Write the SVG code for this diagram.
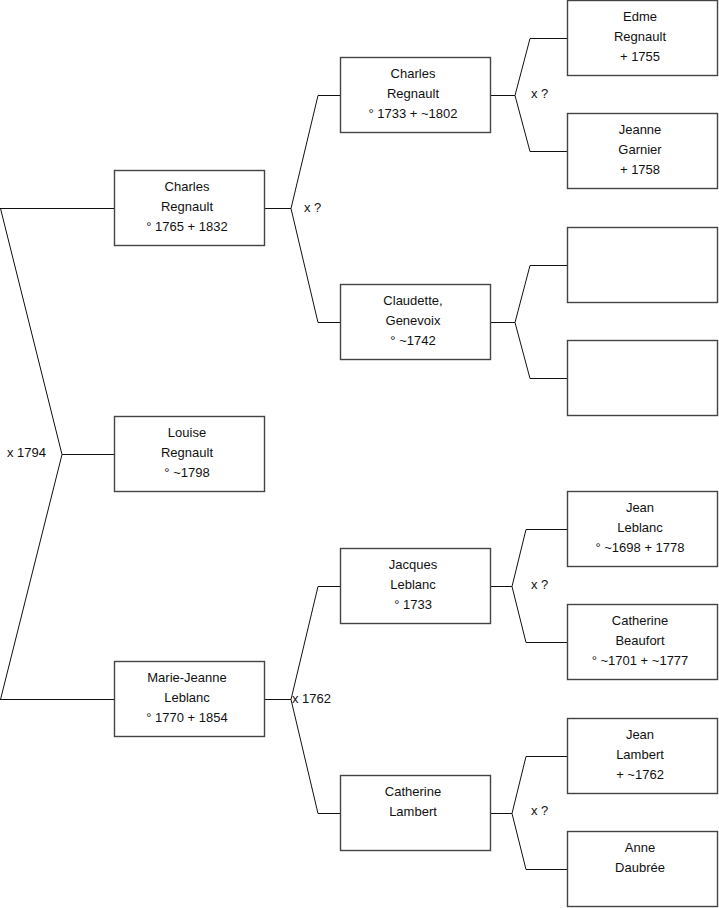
<svg xmlns="http://www.w3.org/2000/svg" width="719" height="908" viewBox="0 0 719 908">
<style>
.box{fill:#fff;stroke:#444;stroke-width:1.4}
.t{font-family:"Liberation Sans",Arial,sans-serif;font-size:13px;fill:#111;text-anchor:middle}
.l{font-family:"Liberation Sans",Arial,sans-serif;font-size:13px;fill:#111}
.c{fill:none;stroke:#111;stroke-width:1}
</style>
<rect width="719" height="908" fill="#fff"/>
<g id="connectors">
<polyline class="c" points="0.5,208.5 62,454.5 0.5,699.5"/>
<line class="c" x1="0" y1="208.5" x2="114.5" y2="208.5"/>
<line class="c" x1="62" y1="454.5" x2="114.5" y2="454.5"/>
<line class="c" x1="0" y1="699.5" x2="114.5" y2="699.5"/>
<polyline class="c" points="264.5,208.5 291,208.5 318,95.5 340.5,95.5"/>
<polyline class="c" points="291,208.5 318,322.5 340.5,322.5"/>
<polyline class="c" points="264.5,699.5 291,699.5 318,586.5 340.5,586.5"/>
<polyline class="c" points="291,699.5 318,813.5 340.5,813.5"/>
<polyline class="c" points="490.5,95.5 515,95.5 530,38.5 567.5,38.5"/>
<polyline class="c" points="515,95.5 530,151.5 567.5,151.5"/>
<polyline class="c" points="490.5,322.5 515,322.5 530,265.5 567.5,265.5"/>
<polyline class="c" points="515,322.5 530,378.5 567.5,378.5"/>
<polyline class="c" points="490.5,586.5 512,586.5 526,529.5 567.5,529.5"/>
<polyline class="c" points="512,586.5 526,642.5 567.5,642.5"/>
<polyline class="c" points="490.5,813.5 512,813.5 526,756.5 567.5,756.5"/>
<polyline class="c" points="512,813.5 526,869.5 567.5,869.5"/>
<text class="l" x="7" y="457">x 1794</text>
<text class="l" x="304" y="212">x ?</text>
<text class="l" x="292" y="703">x 1762</text>
<text class="l" x="531" y="98">x ?</text>
<text class="l" x="531" y="589">x ?</text>
<text class="l" x="531" y="815">x ?</text>
</g>
<g id="charles-1765">
<rect class="box" x="114.5" y="170.5" width="150" height="75"/>
<text class="t" x="187" y="191">Charles</text>
<text class="t" x="187" y="211">Regnault</text>
<text class="t" x="187" y="231">° 1765 + 1832</text>
</g>
<g id="louise">
<rect class="box" x="114.5" y="416.5" width="150" height="75"/>
<text class="t" x="187" y="437">Louise</text>
<text class="t" x="187" y="457">Regnault</text>
<text class="t" x="187" y="477">° ~1798</text>
</g>
<g id="marie-jeanne">
<rect class="box" x="114.5" y="661.5" width="150" height="75"/>
<text class="t" x="187" y="682">Marie-Jeanne</text>
<text class="t" x="187" y="702">Leblanc</text>
<text class="t" x="187" y="722">° 1770 + 1854</text>
</g>
<g id="charles-1733">
<rect class="box" x="340.5" y="57.5" width="150" height="75"/>
<text class="t" x="413" y="78">Charles</text>
<text class="t" x="413" y="98">Regnault</text>
<text class="t" x="413" y="118">° 1733 + ~1802</text>
</g>
<g id="claudette">
<rect class="box" x="340.5" y="284.5" width="150" height="75"/>
<text class="t" x="413" y="305">Claudette,</text>
<text class="t" x="413" y="325">Genevoix</text>
<text class="t" x="413" y="345">° ~1742</text>
</g>
<g id="jacques">
<rect class="box" x="340.5" y="548.5" width="150" height="75"/>
<text class="t" x="413" y="569">Jacques</text>
<text class="t" x="413" y="589">Leblanc</text>
<text class="t" x="413" y="609">° 1733</text>
</g>
<g id="catherine-lambert">
<rect class="box" x="340.5" y="775.5" width="150" height="75"/>
<text class="t" x="413" y="796">Catherine</text>
<text class="t" x="413" y="816">Lambert</text>
</g>
<g id="edme">
<rect class="box" x="567.5" y="0.5" width="150" height="75"/>
<text class="t" x="640" y="21">Edme</text>
<text class="t" x="640" y="41">Regnault</text>
<text class="t" x="640" y="61">+ 1755</text>
</g>
<g id="jeanne">
<rect class="box" x="567.5" y="113.5" width="150" height="75"/>
<text class="t" x="640" y="134">Jeanne</text>
<text class="t" x="640" y="154">Garnier</text>
<text class="t" x="640" y="174">+ 1758</text>
</g>
<g id="empty-1">
<rect class="box" x="567.5" y="227.5" width="150" height="75"/>
</g>
<g id="empty-2">
<rect class="box" x="567.5" y="340.5" width="150" height="75"/>
</g>
<g id="jean-leblanc">
<rect class="box" x="567.5" y="491.5" width="150" height="75"/>
<text class="t" x="640" y="512">Jean</text>
<text class="t" x="640" y="532">Leblanc</text>
<text class="t" x="640" y="552">° ~1698 + 1778</text>
</g>
<g id="catherine-beaufort">
<rect class="box" x="567.5" y="604.5" width="150" height="75"/>
<text class="t" x="640" y="625">Catherine</text>
<text class="t" x="640" y="645">Beaufort</text>
<text class="t" x="640" y="665">° ~1701 + ~1777</text>
</g>
<g id="jean-lambert">
<rect class="box" x="567.5" y="718.5" width="150" height="75"/>
<text class="t" x="640" y="739">Jean</text>
<text class="t" x="640" y="759">Lambert</text>
<text class="t" x="640" y="779">+ ~1762</text>
</g>
<g id="anne">
<rect class="box" x="567.5" y="831.5" width="150" height="75"/>
<text class="t" x="640" y="852">Anne</text>
<text class="t" x="640" y="872">Daubrée</text>
</g>
</svg>
